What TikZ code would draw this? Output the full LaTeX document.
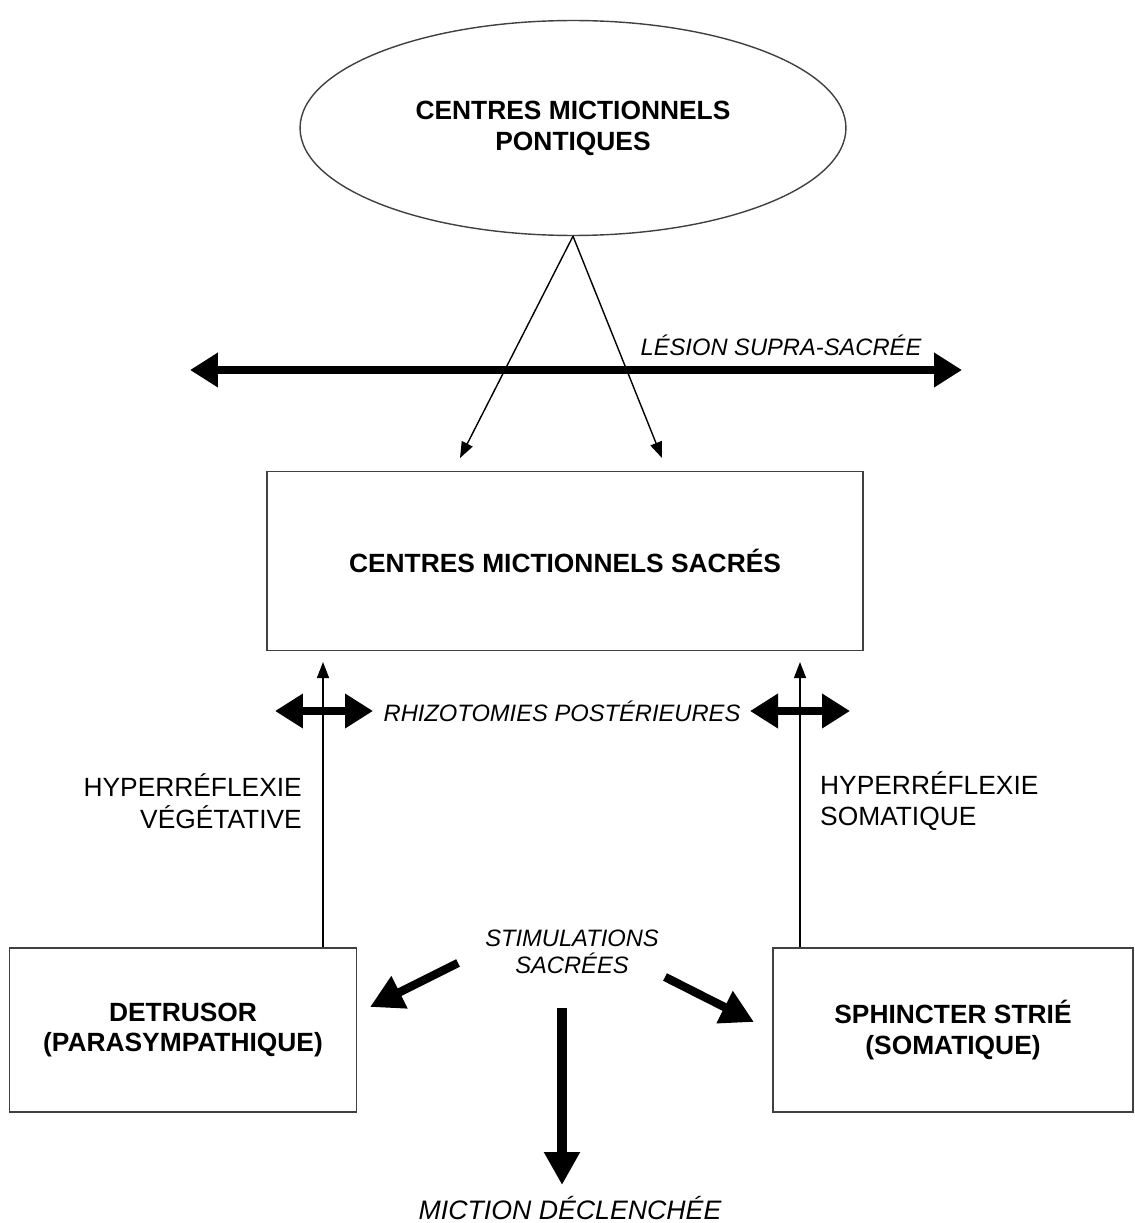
\documentclass[tikz,border=0pt]{standalone}
\usepackage{fontspec}
\setmainfont{Liberation Sans}
\usepackage{tikz}
\usetikzlibrary{shapes,arrows.meta,positioning,calc}

\begin{document}
\begin{tikzpicture}[x=0.02cm, y=-0.02cm,
  boite/.style={rectangle, draw=black!75, line width=0.8pt, align=center, font=\fontsize{15}{17.6}\selectfont\bfseries},
  fin/.style={-{Triangle[length=0.32cm, width=0.24cm]}, line width=0.8pt},
  gros/.style={-{Triangle[length=0.66cm, width=0.68cm]}, line width=4.8pt},
  double/.style={{Triangle[length=0.56cm, width=0.66cm]}-{Triangle[length=0.56cm, width=0.66cm]}, line width=4.2pt},
  penche/.style={font=\fontsize{13.5}{16}\selectfont\itshape, align=center},
  texte/.style={font=\fontsize{15}{18}\selectfont}]
\useasboundingbox (0,0) rectangle (1135,1223);

\node[ellipse, draw=black!75, line width=0.8pt, minimum width=10.92cm, minimum height=4.3cm, align=center, font=\fontsize{15}{17.6}\selectfont\bfseries] (pontiques) at (573,128) {CENTRES MICTIONNELS\\PONTIQUES};
\node[boite, minimum width=11.92cm, minimum height=3.58cm] (sacres) at (565,561) {CENTRES MICTIONNELS SACRÉS};
\node[boite, minimum width=6.94cm, minimum height=3.28cm] (detrusor) at (183,1030) {DETRUSOR\\(PARASYMPATHIQUE)};
\node[boite, minimum width=7.2cm, minimum height=3.28cm] (sphincter) at (953,1030) {SPHINCTER STRIÉ\\(SOMATIQUE)};

% pont -> sacre
\coordinate (pontG) at (460,458);
\coordinate (pontD) at (662,458);
\draw[fin] (pontiques.south) -- (pontG);
\draw[fin] (pontiques.south) -- (pontD);

% lesion supra-sacree
\coordinate (lesG) at (190,370);
\coordinate (lesD) at (962,370);
\draw[double, line width=4.8pt] (lesG) -- (lesD);
\node[penche] (lesion) at (781,345) {LÉSION SUPRA-SACRÉE};

% voies reflexes
\coordinate (hvG) at (323,662);
\coordinate (hvD) at (800,662);
\draw[fin] (detrusor.north -| hvG) -- (hvG);
\draw[fin] (sphincter.north -| hvD) -- (hvD);
\node[texte, align=right, anchor=east] (vegetative) at (308,801) {HYPERRÉFLEXIE\\VÉGÉTATIVE};
\node[texte, align=left, anchor=west] (somatique) at (814,801) {HYPERRÉFLEXIE\\SOMATIQUE};

% rhizotomies
\coordinate (rhG1) at (275,711);
\coordinate (rhG2) at (373,711);
\coordinate (rhD1) at (750,711);
\coordinate (rhD2) at (850,711);
\draw[double] (rhG1) -- (rhG2);
\draw[double] (rhD1) -- (rhD2);
\node[penche] (rhizo) at (562,711) {RHIZOTOMIES POSTÉRIEURES};

% stimulations
\node[penche, font=\fontsize{13.5}{15.5}\selectfont\itshape] (stimul) at (572,952) {STIMULATIONS\\SACRÉES};
\coordinate (stG1) at (458,963);
\coordinate (stG2) at (370,1007);
\coordinate (stD1) at (665,977);
\coordinate (stD2) at (754,1022);
\coordinate (stB1) at (562,1008);
\coordinate (stB2) at (562,1185);
\draw[gros] (stG1) -- (stG2);
\draw[gros] (stD1) -- (stD2);
\draw[gros, line width=5.4pt] (stB1) -- (stB2);
\node[penche, font=\fontsize{15.2}{18}\selectfont\itshape] (miction) at (570,1208) {MICTION DÉCLENCHÉE};
\end{tikzpicture}
\end{document}
